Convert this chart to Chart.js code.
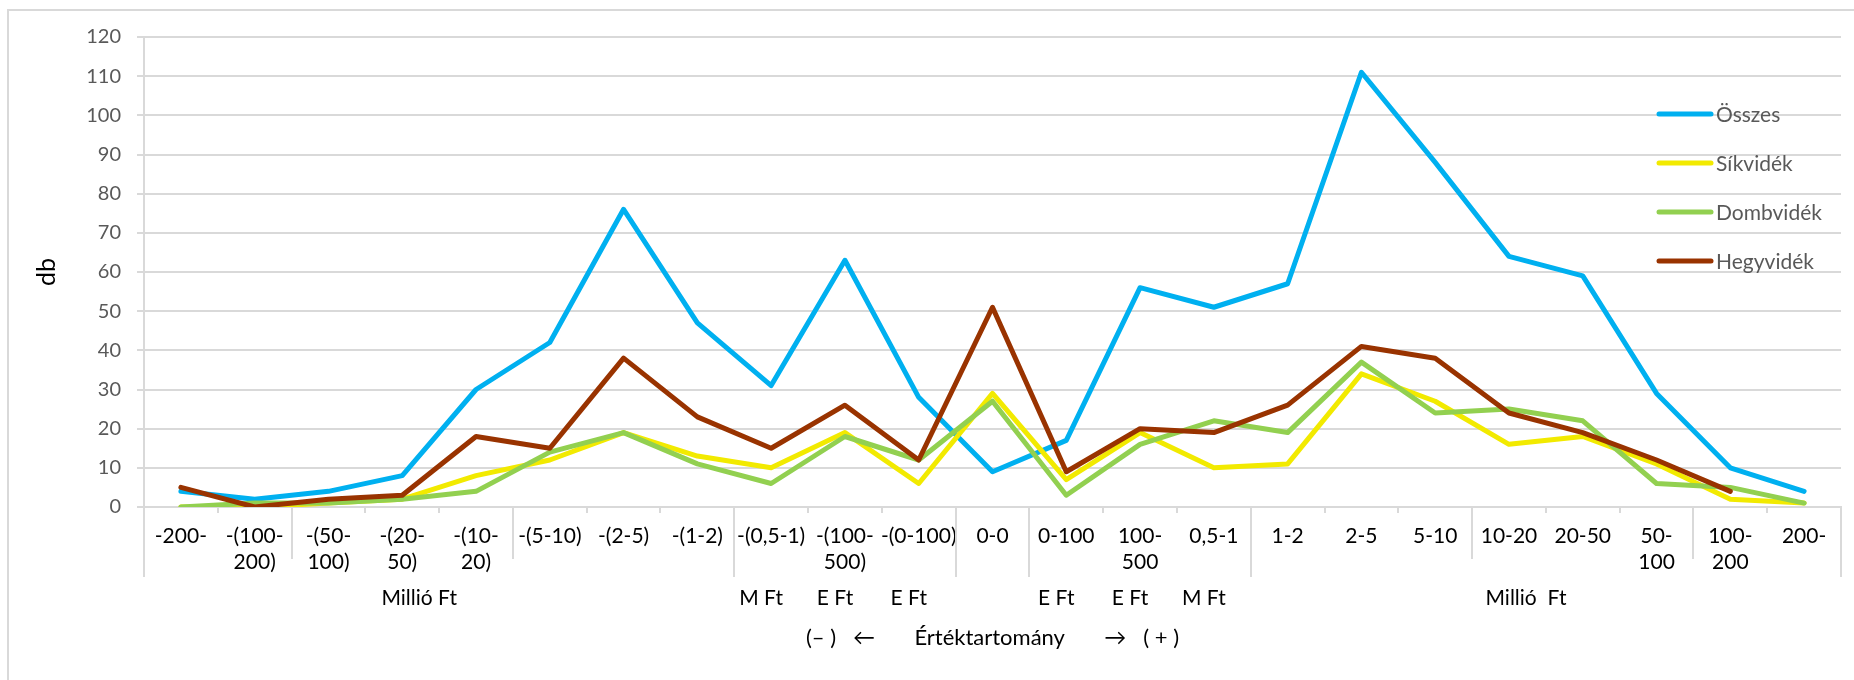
<!DOCTYPE html>
<html>
<head>
<meta charset="utf-8">
<script src="https://cdn.jsdelivr.net/npm/chart.js@4.4.0/dist/chart.umd.min.js"></script>
<style>
  body { margin: 0; background: #fff; }
  #wrap { position: relative; width: 1854px; height: 680px; overflow: hidden; }
  #frame { position: absolute; left: 7px; top: 9px; width: 1900px; height: 700px; border: 2px solid #d9d9d9; }
  canvas { position: absolute; left: 0; top: 0; }
</style>
</head>
<body>
<div id="wrap">
  <div id="frame"></div>
  <canvas id="chart" width="1854" height="680"></canvas>
</div>
<script>
// categories (value ranges), wrapped like the original
const categories = [
  ["-200-"], ["-(100-", "200)"], ["-(50-", "100)"], ["-(20-", "50)"], ["-(10-", "20)"],
  ["-(5-10)"], ["-(2-5)"], ["-(1-2)"], ["-(0,5-1)"], ["-(100-", "500)"], ["-(0-100)"],
  ["0-0"], ["0-100"], ["100-", "500"], ["0,5-1"], ["1-2"], ["2-5"], ["5-10"],
  ["10-20"], ["20-50"], ["50-", "100"], ["100-", "200"], ["200-"]
];
// unit row under the categories
const unitRow = [
  "", "", "", "Millió Ft", "", "", "", "", "M Ft", "E Ft", "E Ft",
  "", "E Ft", "E Ft", "M Ft", "", "", "", "Millió  Ft", "", "", "", ""
];
// category boundaries with longer separator lines
const midSeparators = [2, 5, 18, 21];
const longSeparators = [0, 8, 11, 12, 15, 23];

const seriesNames = ["Összes", "Síkvidék", "Dombvidék", "Hegyvidék"];
const osszes    = [4, 2, 4, 8, 30, 42, 76, 47, 31, 63, 28, 9, 17, 56, 51, 57, 111, 88, 64, 59, 29, 10, 4];
const sikvidek  = [0, 0, 1, 2, 8, 12, 19, 13, 10, 19, 6, 29, 7, 19, 10, 11, 34, 27, 16, 18, 11, 2, 1];
const dombvidek = [0, 1, 1, 2, 4, 14, 19, 11, 6, 18, 12, 27, 3, 16, 22, 19, 37, 24, 25, 22, 6, 5, 1];
const hegyvidek = [5, 0, 2, 3, 18, 15, 38, 23, 15, 26, 12, 51, 9, 20, 19, 26, 41, 38, 24, 19, 12, 4, null];

const colors = ["#00B0F0", "#F2EA00", "#92D050", "#993300"];
const FONT = "Lato, 'Open Sans', sans-serif";

// separators, unit row and legend (legend sits inside the plot like in Excel)
const axisDecor = {
  id: "axisDecor",
  afterDraw(chart) {
    const { ctx, chartArea } = chart;
    const x = chart.scales.x;
    const edge = (i) => x.getPixelForValue(i - 0.5);
    const line = (px, y0, y1) => {
      ctx.beginPath();
      ctx.moveTo(Math.round(px), y0);
      ctx.lineTo(Math.round(px), y1);
      ctx.stroke();
    };
    ctx.save();
    ctx.strokeStyle = "#D9D9D9";
    ctx.lineWidth = 2;
    midSeparators.forEach((i) => line(edge(i), chartArea.bottom, chartArea.bottom + 52));
    longSeparators.forEach((i) => line(edge(i), chartArea.bottom, chartArea.bottom + 70));

    ctx.font = "21px " + FONT;
    ctx.fillStyle = "#000";
    ctx.textAlign = "center";
    ctx.textBaseline = "middle";
    unitRow.forEach((t, i) => {
      if (!t) return;
      const nudge = t.startsWith("Millió") ? 17 : -10;
      ctx.fillText(t, x.getPixelForValue(i) + nudge, chartArea.bottom + 91);
    });

    // legend
    ctx.textAlign = "left";
    ctx.fillStyle = "#595959";
    ctx.lineCap = "round";
    ctx.lineWidth = 5;
    chart.data.datasets.forEach((ds, i) => {
      const y = 114 + i * 49;
      ctx.strokeStyle = ds.borderColor;
      ctx.beginPath();
      ctx.moveTo(1659, y);
      ctx.lineTo(1711, y);
      ctx.stroke();
      ctx.fillText(ds.label, 1716, y + 1);
    });
    ctx.restore();
  },
};

const seriesData = [osszes, sikvidek, dombvidek, hegyvidek];

new Chart(document.getElementById("chart"), {
  type: "line",
  data: {
    labels: categories,
    datasets: seriesNames.map((name, i) => ({
      label: name,
      data: seriesData[i],
      borderColor: colors[i],
      backgroundColor: colors[i],
      borderWidth: 5,
      pointRadius: 0,
      tension: 0,
      borderJoinStyle: "round",
      borderCapStyle: "round",
      order: 4 - i,
    })),
  },
  options: {
    responsive: false,
    animation: false,
    layout: { padding: { left: 0, right: 13, top: 37, bottom: 0 } },
    plugins: { legend: { display: false }, tooltip: { enabled: false } },
    scales: {
      x: {
        offset: true,
        afterFit: (s) => { s.height = 173; },
        grid: { offset: true, drawOnChartArea: false, tickLength: 6, color: "#D9D9D9", lineWidth: 2 },
        border: { color: "#D9D9D9", width: 2 },
        ticks: { color: "#000", font: { family: FONT, size: 21 }, padding: 11, maxRotation: 0, autoSkip: false },
        title: {
          display: true,
          text: "(– )   ←       Értéktartomány       →   ( + )",
          color: "#000",
          font: { family: FONT, size: 22 },
          padding: { bottom: 29 },
        },
      },
      y: {
        min: 0,
        max: 120,
        afterFit: (s) => { s.width = 144; },
        grid: { color: "#D9D9D9", lineWidth: 2, tickLength: 7 },
        border: { color: "#D9D9D9", width: 2 },
        ticks: { stepSize: 10, color: "#595959", font: { family: FONT, size: 20 }, padding: 16 },
        title: {
          display: true,
          text: "db",
          color: "#000",
          font: { family: FONT, size: 25 },
          padding: { top: 32 },
        },
      },
    },
  },
  plugins: [axisDecor],
});
</script>
</body>
</html>
